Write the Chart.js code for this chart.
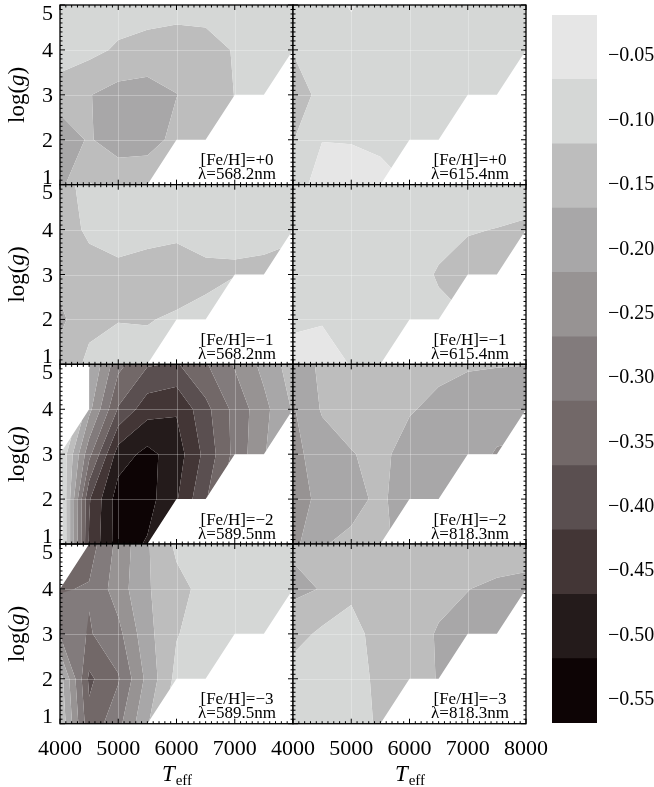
<!DOCTYPE html>
<html>
<head>
<meta charset="utf-8">
<script src="https://cdn.jsdelivr.net/npm/chart.js@4.4.1/dist/chart.umd.min.js"></script>
<style>
  html, body { margin: 0; padding: 0; background: #fff; }
  #wrap { position: relative; width: 654px; height: 787px; }
  #wrap canvas { position: absolute; top: 0; }
</style>
</head>
<body>
<div id="wrap">
  <canvas id="panels" width="654" height="787" style="left:0"></canvas>
  <canvas id="cbar" width="114" height="787" style="left:540px"></canvas>
</div>
<script>
// model grid: Teff columns, log g rows (top row = log g 5)
const teffGrid = [4000, 4500, 5000, 5500, 6000, 6500, 7000, 7500, 8000];
const loggRows = [5, 4, 3, 2, 1];

// contour edges and band colours, darkest band first
const levels = [-0.568, -0.518, -0.468, -0.418, -0.368, -0.318, -0.268, -0.218, -0.168, -0.118, -0.068, -0.018];
const bandColors = ["#0d0405", "#241b1b", "#433636", "#5a4f50", "#726868", "#827b7c",
                    "#979393", "#a8a7a8", "#bdbdbd", "#d5d7d6", "#e6e6e6"];
const cbarTicks = [-0.55, -0.50, -0.45, -0.40, -0.35, -0.30, -0.25, -0.20, -0.15, -0.10, -0.05];

// abundance corrections, null = no model
const corr5682_p0 = [
  [-0.080, -0.085, -0.093, -0.097, -0.101, -0.101, -0.100, -0.100, -0.100],
  [-0.085, -0.104, -0.125, -0.135, -0.140, -0.135, -0.115, -0.105, -0.100],
  [-0.151, -0.166, -0.186, -0.190, -0.169, -0.150, -0.117, -0.110, null],
  [-0.190, -0.164, -0.190, -0.190, -0.153, -0.145, null, null, null],
  [-0.180, -0.115, -0.135, -0.127, null, null, null, null, null],
];
const corr6154_p0 = [
  [-0.100, -0.100, -0.062, -0.100, -0.100, -0.100, -0.100, -0.100, -0.100],
  [-0.115, -0.100, -0.100, -0.100, -0.100, -0.100, -0.100, -0.100, -0.100],
  [-0.150, -0.100, -0.095, -0.095, -0.095, -0.095, -0.095, -0.095, null],
  [-0.120, -0.069, -0.070, -0.076, -0.090, -0.095, null, null, null],
  [-0.088, -0.050, -0.050, -0.055, null, null, null, null, null],
];
const corr5682_m1 = [
  [-0.130, -0.107, -0.100, -0.100, -0.100, -0.100, -0.100, -0.100, -0.100],
  [-0.140, -0.110, -0.105, -0.108, -0.110, -0.105, -0.116, -0.109, -0.113],
  [-0.150, -0.136, -0.126, -0.131, -0.137, -0.126, -0.119, -0.125, null],
  [-0.180, -0.128, -0.119, -0.120, -0.113, -0.108, null, null, null],
  [-0.145, -0.109, -0.105, -0.105, null, null, null, null, null],
];
const corr6154_m1 = [
  [-0.095, -0.095, -0.095, -0.095, -0.095, -0.095, -0.095, -0.095, -0.095],
  [-0.095, -0.095, -0.095, -0.095, -0.095, -0.100, -0.115, -0.119, -0.125],
  [-0.095, -0.095, -0.095, -0.095, -0.095, -0.123, -0.135, -0.135, null],
  [-0.074, -0.071, -0.085, -0.090, -0.095, -0.105, null, null, null],
  [-0.055, -0.050, -0.070, -0.090, null, null, null, null, null],
];
const corr5895_m2 = [
  [null, -0.163, -0.303, -0.363, -0.373, -0.323, -0.263, -0.203, -0.143],
  [null, -0.203, -0.373, -0.448, -0.463, -0.383, -0.303, -0.233, -0.163],
  [-0.063, -0.303, -0.493, -0.533, -0.493, -0.403, -0.303, -0.223, null],
  [-0.038, -0.413, -0.543, -0.538, -0.473, -0.373, null, null, null],
  [-0.033, -0.423, -0.543, -0.513, null, null, null, null, null],
];
const corr8183_m2 = [
  [-0.213, -0.153, -0.133, -0.133, -0.143, -0.153, -0.163, -0.166, -0.167],
  [-0.223, -0.163, -0.143, -0.143, -0.163, -0.183, -0.193, -0.193, -0.198],
  [-0.233, -0.193, -0.171, -0.153, -0.193, -0.193, -0.193, -0.223, null],
  [-0.243, -0.203, -0.183, -0.158, -0.198, -0.193, null, null, null],
  [-0.233, -0.171, -0.158, -0.153, null, null, null, null, null],
];
const corr5895_m3 = [
  [null, -0.343, -0.253, -0.173, -0.108, -0.093, -0.093, -0.093, -0.093],
  [-0.323, -0.313, -0.243, -0.173, -0.133, -0.103, -0.093, -0.093, -0.093],
  [-0.273, -0.323, -0.283, -0.183, -0.121, -0.093, -0.093, -0.093, null],
  [-0.143, -0.378, -0.323, -0.203, -0.103, -0.093, null, null, null],
  [-0.123, -0.353, -0.283, -0.173, null, null, null, null, null],
];
const corr8183_m3 = [
  [-0.161, -0.148, -0.143, -0.143, -0.143, -0.143, -0.143, -0.138, -0.143],
  [-0.178, -0.166, -0.133, -0.143, -0.143, -0.153, -0.167, -0.178, -0.183],
  [-0.138, -0.108, -0.091, -0.149, -0.143, -0.173, -0.183, -0.183, null],
  [-0.093, -0.093, -0.088, -0.135, -0.143, -0.171, null, null, null],
  [-0.093, -0.093, -0.088, -0.128, null, null, null, null, null],
];

const panelData = [corr5682_p0, corr6154_p0, corr5682_m1, corr6154_m1,
                   corr5895_m2, corr8183_m2, corr5895_m3, corr8183_m3];
const fehLabels = ["+0", "+0", "\u22121", "\u22121", "\u22122", "\u22122", "\u22123", "\u22123"];
const lambdaLabels = ["568.2", "615.4", "568.2", "615.4", "589.5", "818.3", "589.5", "818.3"];

const serif = '"Liberation Serif", "Times New Roman", serif';


// keep the part of a polygon where sign*(v - level) >= 0
function clipHalf(poly, level, sign) {
  const out = [];
  for (let i = 0; i < poly.length; i++) {
    const a = poly[i];
    const b = poly[(i + 1) % poly.length];
    const ina = sign * (a.v - level) >= 0;
    const inb = sign * (b.v - level) >= 0;
    if (ina) out.push(a);
    if (ina !== inb) {
      const t = (level - a.v) / (b.v - a.v);
      out.push({ x: a.x + t * (b.x - a.x), y: a.y + t * (b.y - a.y), v: level });
    }
  }
  return out;
}

// quads of the grid; a quad with one missing corner keeps its triangle
function gridCells(vals) {
  const cells = [];
  for (let r = 0; r < loggRows.length - 1; r++) {
    for (let c = 0; c < teffGrid.length - 1; c++) {
      const corners = [[c, r], [c + 1, r], [c + 1, r + 1], [c, r + 1]]
        .map(([i, j]) => ({ x: teffGrid[i], y: loggRows[j], v: vals[j][i] }))
        .filter((p) => p.v !== null);
      if (corners.length >= 3) cells.push(corners);
    }
  }
  return cells;
}


function drawContours(ctx, xs, ys, vals) {
  const cells = gridCells(vals);
  bandColors.forEach((color, k) => {
    ctx.beginPath();
    cells.forEach((cell) => {
      const poly = clipHalf(clipHalf(cell, levels[k], 1), levels[k + 1], -1);
      if (poly.length < 3) return;
      poly.forEach((p, i) => {
        const px = xs.getPixelForValue(p.x);
        const py = ys.getPixelForValue(p.y);
        if (i === 0) ctx.moveTo(px, py);
        else ctx.lineTo(px, py);
      });
      ctx.closePath();
    });
    ctx.fillStyle = color;
    ctx.fill();
  });
}


function drawFrame(ctx, xs, ys) {
  const left = xs.getPixelForValue(4000), right = xs.getPixelForValue(8000);
  const top = ys.getPixelForValue(5), bottom = ys.getPixelForValue(1);

  // faint grid over the fills
  ctx.strokeStyle = "rgba(255,255,255,0.28)";
  ctx.lineWidth = 1;
  ctx.beginPath();
  xs.ticks.forEach((t) => {
    if (t.value <= 4000 || t.value >= 8000) return;
    const px = Math.round(xs.getPixelForValue(t.value)) + 0.5;
    ctx.moveTo(px, top); ctx.lineTo(px, bottom);
  });
  ys.ticks.forEach((t) => {
    if (t.value <= 1 || t.value >= 5) return;
    const py = Math.round(ys.getPixelForValue(t.value)) + 0.5;
    ctx.moveTo(left, py); ctx.lineTo(right, py);
  });
  ctx.stroke();

  // inward ticks on all four sides
  ctx.strokeStyle = "#000";
  ctx.lineWidth = 1;
  ctx.beginPath();
  for (let t = 4000; t <= 8000; t += 100) {
    const len = t % 1000 === 0 ? 5 : 2.5;
    const px = xs.getPixelForValue(t);
    ctx.moveTo(px, bottom); ctx.lineTo(px, bottom - len);
    ctx.moveTo(px, top); ctx.lineTo(px, top + len);
  }
  for (let i = 10; i <= 50; i++) {
    const len = i % 10 === 0 ? 5 : 2.5;
    const py = ys.getPixelForValue(i / 10);
    ctx.moveTo(left, py); ctx.lineTo(left + len, py);
    ctx.moveTo(right, py); ctx.lineTo(right - len, py);
  }
  ctx.stroke();

  ctx.lineWidth = 1.3;
  ctx.strokeRect(left, top, right - left, bottom - top);
}


const contourPlugin = {
  id: "contourPanels",
  afterDatasetsDraw(chart) {
    const ctx = chart.ctx;
    chart.data.datasets.forEach((ds, i) => {
      const xs = chart.scales[ds.xAxisID];
      const ys = chart.scales[ds.yAxisID];
      const left = xs.getPixelForValue(4000), right = xs.getPixelForValue(8000);
      const top = ys.getPixelForValue(5), bottom = ys.getPixelForValue(1);

      ctx.save();
      ctx.beginPath();
      ctx.rect(left, top, right - left, bottom - top);
      ctx.clip();
      drawContours(ctx, xs, ys, panelData[i]);
      ctx.restore();

      ctx.save();
      drawFrame(ctx, xs, ys);

      // panel caption
      const cx = right - 56;
      ctx.fillStyle = "#000";
      ctx.font = "17px " + serif;
      ctx.textAlign = "center";
      ctx.textBaseline = "alphabetic";
      ctx.fillText("[Fe/H]=" + fehLabels[i], cx, bottom - 19.5);
      ctx.fillText("\u03bb=" + lambdaLabels[i] + "nm", cx, bottom - 5.5);

      // tick labels on the outer edges
      ctx.font = "22px " + serif;
      if (ds.xAxisID === "x0") {
        ctx.textAlign = "right";
        ys.ticks.forEach((t) => {
          const py = ys.getPixelForValue(t.value);
          let off = 7;
          if (t.value === 5) off = 14.5;
          if (t.value === 1) off = -1;
          ctx.fillText(String(t.value), left - 7, py + off);
        });
        // rotated log(g)
        ctx.save();
        ctx.translate(24, (top + bottom) / 2);
        ctx.rotate(-Math.PI / 2);
        const up = "23px " + serif, it = "italic 23px " + serif;
        ctx.font = up; const w1 = ctx.measureText("log(").width;
        ctx.font = it; const w2 = ctx.measureText("g").width;
        ctx.font = up; const w3 = ctx.measureText(")").width;
        let x0 = -(w1 + w2 + w3) / 2;
        ctx.textAlign = "left";
        ctx.font = up; ctx.fillText("log(", x0, 0); x0 += w1;
        ctx.font = it; ctx.fillText("g", x0, 0); x0 += w2;
        ctx.font = up; ctx.fillText(")", x0, 0);
        ctx.restore();
      }
      if (ds.yAxisID === "y3") {
        ctx.textAlign = "center";
        xs.ticks.forEach((t) => {
          if (ds.xAxisID === "x0" && t.value === 8000) return;
          ctx.fillText(String(t.value), xs.getPixelForValue(t.value), 755);
        });
        // T_eff
        const cx2 = (left + right) / 2;
        ctx.font = "italic 23px " + serif;
        const wT = ctx.measureText("T").width;
        ctx.font = "15px " + serif;
        const wS = ctx.measureText("eff").width;
        const sx = cx2 - (wT + wS) / 2;
        ctx.textAlign = "left";
        ctx.font = "italic 23px " + serif;
        ctx.fillText("T", sx, 781);
        ctx.font = "15px " + serif;
        ctx.fillText("eff", sx + wT + 1, 785);
      }
      ctx.restore();
    });
  },
};


function teffScale(order) {
  return {
    type: "linear", position: "bottom", stack: "teff", stackWeight: 1, weight: order,
    min: 4000, max: 8000,
    ticks: { display: false, stepSize: 1000 },
    grid: { display: false }, border: { display: false },
    afterFit: (s) => { s.height = 30; },
  };
}
function loggScale(order) {
  return {
    type: "linear", position: "left", stack: "logg", stackWeight: 1, weight: order,
    min: 1, max: 5,
    ticks: { display: false, stepSize: 1 },
    grid: { display: false }, border: { display: false },
    afterFit: (s) => { s.width = 60; },
  };
}


const datasets = panelData.map((vals, i) => ({
  label: "[Fe/H]=" + fehLabels[i] + " " + lambdaLabels[i] + "nm",
  data: vals.flatMap((row, r) =>
    row.map((v, c) => (v === null ? null : { x: teffGrid[c], y: loggRows[r] })).filter(Boolean)),
  xAxisID: "x" + (i % 2),
  yAxisID: "y" + Math.floor(i / 2),
  pointRadius: 0,
}));

new Chart(document.getElementById("panels"), {
  type: "scatter",
  data: { datasets },
  options: {
    responsive: false,
    animation: false,
    devicePixelRatio: 1,
    events: [],
    layout: { padding: { left: 0, top: 5, right: 128, bottom: 33.3 } },
    plugins: { legend: { display: false }, tooltip: { enabled: false } },
    scales: {
      x0: teffScale(1),
      x1: teffScale(2),
      y0: loggScale(4),
      y1: loggScale(3),
      y2: loggScale(2),
      y3: loggScale(1),
    },
  },
  plugins: [contourPlugin],
});


// colour bar
new Chart(document.getElementById("cbar"), {
  type: "bar",
  data: {
    labels: [""],
    datasets: bandColors.map((color, k) => ({
      data: [[levels[k], levels[k + 1]]],
      backgroundColor: color,
      borderWidth: 0,
      barPercentage: 1,
      categoryPercentage: 1,
    })),
  },
  options: {
    responsive: false,
    animation: false,
    devicePixelRatio: 1,
    events: [],
    layout: { padding: { left: 12, top: 5, right: 0, bottom: 64 } },
    plugins: { legend: { display: false }, tooltip: { enabled: false } },
    scales: {
      x: { stacked: true, display: false },
      y: {
        position: "right",
        min: levels[0],
        max: levels[levels.length - 1],
        afterBuildTicks: (s) => { s.ticks = cbarTicks.map((v) => ({ value: v })); },
        afterFit: (s) => { s.width = 57; },
        grid: { display: false },
        border: { display: false },
        ticks: {
          padding: 3,
          color: "#000",
          font: { family: serif, size: 20 },
          callback: (v) => "\u2212" + Math.abs(v).toFixed(2),
        },
      },
    },
  },
});
</script>
</body>
</html>
